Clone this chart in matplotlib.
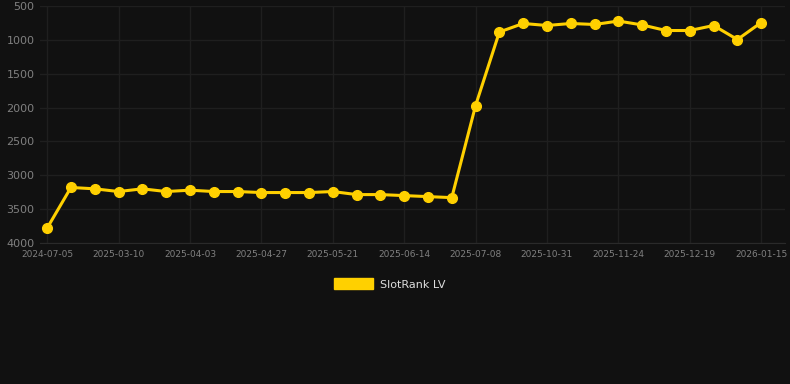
import matplotlib.pyplot as plt
import numpy as np

dates = ['2024-07-05', '', '', '2025-03-10', '', '', '2025-04-03', '', '',
         '2025-04-27', '', '', '2025-05-21', '', '', '2025-06-14', '', '',
         '2025-07-08', '', '', '2025-10-31', '', '', '2025-11-24', '', '',
         '2025-12-19', '', '', '2026-01-15']
rank = [3780, 3180, 3200, 3240, 3200, 3240, 3220, 3240, 3240, 3255, 3255,
        3255, 3240, 3285, 3285, 3300, 3315, 3330, 1970, 884, 758, 788, 758,
        773, 722, 780, 862, 862, 788, 995, 744]

bg = '#111111'
gold = '#FFD000'

fig = plt.figure(figsize=(7.9, 3.84), dpi=100, facecolor=bg)
ax = fig.add_axes([40 / 790, 141 / 384, 745 / 790, 237 / 384])
ax.set_facecolor(bg)

x = np.arange(len(rank))
ax.plot(x, rank, color=gold, linewidth=2.2, marker='o', markersize=7,
        label='SlotRank LV', zorder=3)

ax.set_ylim(4000, 500)
ax.set_xlim(-0.3, 31)
ax.set_yticks([500, 1000, 1500, 2000, 2500, 3000, 3500, 4000])
ticks = [i for i, d in enumerate(dates) if d]
ax.set_xticks(ticks)
ax.set_xticklabels([dates[i] for i in ticks])

ax.grid(True, color='#1f1f1f', linewidth=1)
for s in ax.spines.values():
    s.set_visible(False)
ax.spines['bottom'].set_visible(True)
ax.spines['bottom'].set_color('#2a2a2a')
ax.tick_params(axis='both', length=0, colors='#808080')
ax.tick_params(axis='y', labelsize=8, pad=4)
ax.tick_params(axis='x', labelsize=6.5, pad=5)

leg = fig.legend(handles=[plt.Rectangle((0, 0), 1, 1, color=gold)],
                 labels=['SlotRank LV'], loc='center',
                 bbox_to_anchor=(390 / 790, 1 - 284 / 384), frameon=False,
                 fontsize=8, handlelength=3.5, handleheight=1.1,
                 handletextpad=0.6)
for t in leg.get_texts():
    t.set_color('#dddddd')

fig.savefig('out.png', dpi=100, facecolor=bg)
